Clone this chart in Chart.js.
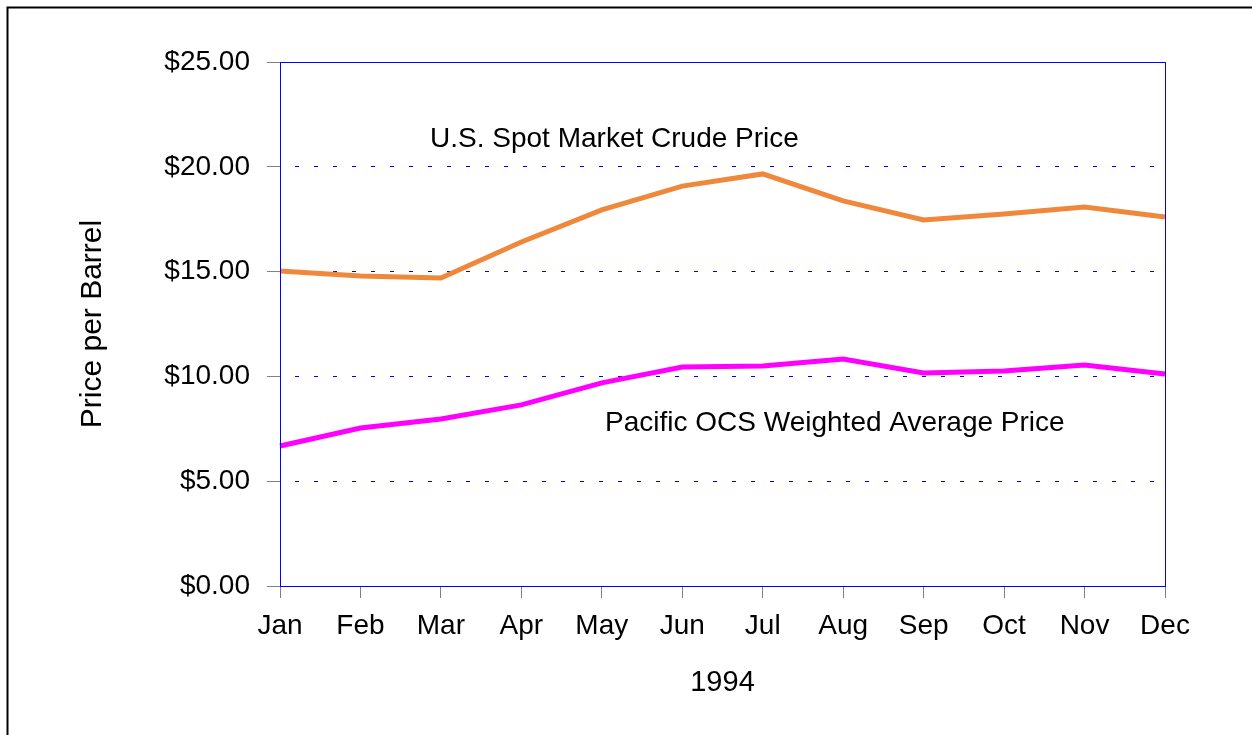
<!DOCTYPE html>
<html>
<head>
<meta charset="utf-8">
<title>Crude Price 1994</title>
<script src="https://cdn.jsdelivr.net/npm/chart.js@4"></script>
<style>
  html, body { margin: 0; padding: 0; background: #fff; }
  canvas { display: block; }
</style>
</head>
<body>
<canvas id="priceChart" width="1252" height="735"></canvas>
<script>
// Dados
const months = ['Jan', 'Feb', 'Mar', 'Apr', 'May', 'Jun', 'Jul', 'Aug', 'Sep', 'Oct', 'Nov', 'Dec'];
const spotPrice = [15.03, 14.79, 14.69, 16.41, 17.94, 19.08, 19.66, 18.37, 17.46, 17.75, 18.08, 17.60];
const pacificPrice = [6.68, 7.54, 7.97, 8.64, 9.69, 10.45, 10.50, 10.83, 10.16, 10.26, 10.54, 10.11];
const yTicks = [0, 5, 10, 15, 20, 25];

// Rótulos das séries, em coordenadas dos dados (índice do mês, preço)
const noteTexts = ['U.S. Spot Market Crude Price', 'Pacific OCS Weighted Average Price'];
const noteIndex = [1.865, 4.04];
const noteValue = [21.3, 7.75];

const FONT = '"Liberation Sans", Arial, sans-serif';
const SIZE = 28;
Chart.defaults.font.family = FONT;
Chart.defaults.font.size = SIZE;
Chart.defaults.color = '#000';

// Moldura da página, caixa da área do gráfico e rótulos
const decorations = {
    id: 'decorations',
    beforeDraw(chart) {
        const c = chart.ctx;
        c.save();
        c.fillStyle = '#fff';
        c.fillRect(0, 0, chart.width, chart.height);
        c.strokeStyle = '#000';
        c.lineWidth = 2;
        c.strokeRect(7.5, 7.5, chart.width + 20, chart.height + 20);
        c.restore();
    },
    afterDatasetsDraw(chart) {
        const c = chart.ctx;
        const a = chart.chartArea;
        c.save();
        c.strokeStyle = '#0000ff';
        c.lineWidth = 1;
        c.strokeRect(Math.round(a.left) + 0.5, Math.round(a.top) + 0.5,
            Math.round(a.right - a.left), Math.round(a.bottom - a.top));
        c.fillStyle = '#000';
        c.font = SIZE + 'px ' + FONT;
        c.textAlign = 'left';
        c.textBaseline = 'middle';
        const xs = chart.scales.x, ys = chart.scales.y;
        noteTexts.forEach((t, i) => {
            c.fillText(t, xs.getPixelForValue(noteIndex[i]), ys.getPixelForValue(noteValue[i]));
        });
        c.restore();
    }
};

const ctx = document.getElementById('priceChart').getContext('2d');
const chart = new Chart(ctx, {
    type: 'line',
    data: {
        labels: months,
        datasets: [{
            label: 'U.S. Spot Market Crude Price',
            data: spotPrice,
            borderColor: '#f0883c',
            borderWidth: 5,
            pointRadius: 0,
            tension: 0
        }, {
            label: 'Pacific OCS Weighted Average Price',
            data: pacificPrice,
            borderColor: '#ff00ff',
            borderWidth: 5,
            pointRadius: 0,
            tension: 0
        }]
    },
    options: {
        responsive: false,
        animation: false,
        devicePixelRatio: 1,
        layout: {
            padding: { left: 75, top: 62, right: 87, bottom: 35 }
        },
        plugins: {
            legend: { display: false },
            tooltip: { enabled: false }
        },
        scales: {
            x: {
                offset: false,
                grid: {
                    drawOnChartArea: false,
                    tickLength: 12,
                    tickColor: '#808080',
                    color: '#808080'
                },
                border: { display: false },
                ticks: { padding: 11, maxRotation: 0, autoSkip: false, color: '#000' },
                title: {
                    display: true,
                    text: '1994',
                    color: '#000',
                    padding: 0,
                    font: { size: 29 }
                },
                afterFit(scale) { scale.height = 114; }
            },
            y: {
                min: 0,
                max: 25,
                afterBuildTicks(scale) {
                    scale.ticks = yTicks.map(v => ({ value: v }));
                },
                grid: {
                    color: '#0000ff',
                    lineWidth: 1,
                    tickLength: 13,
                    tickColor: '#808080',
                    tickBorderDash: []
                },
                border: { display: false, dash: [4, 15], dashOffset: 4 },
                ticks: {
                    padding: 17,
                    color: '#000',
                    callback: v => '$' + Number(v).toFixed(2)
                },
                title: {
                    display: true,
                    text: 'Price per Barrel',
                    color: '#000',
                    padding: 0,
                    font: { size: 30 }
                },
                afterFit(scale) { scale.width = 205; }
            }
        }
    },
    plugins: [decorations]
});
</script>
</body>
</html>
